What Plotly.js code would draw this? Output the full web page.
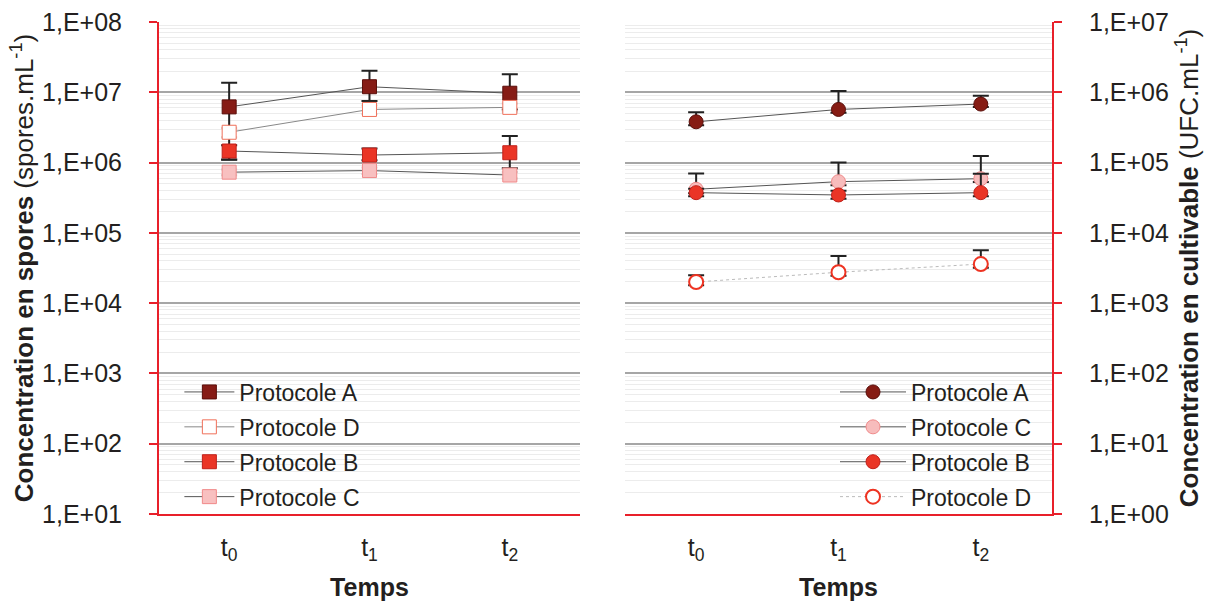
<!DOCTYPE html>
<html><head><meta charset="utf-8">
<script src="https://cdn.plot.ly/plotly-3.0.1.min.js"></script>
<style>html,body{margin:0;padding:0;background:#fff}</style>
</head><body><div id="chart" style="width:1206px;height:601px"></div>
<script>
// ---- data ----
const timeKeys = ['t0', 't1', 't2'];
const timeLabels = ['t<sub>0</sub>', 't<sub>1</sub>', 't<sub>2</sub>'];
const sporeTickVals = [1e1, 1e2, 1e3, 1e4, 1e5, 1e6, 1e7, 1e8];
const sporeTickText = ['1,E+01', '1,E+02', '1,E+03', '1,E+04', '1,E+05', '1,E+06', '1,E+07', '1,E+08'];
const cultTickVals = [1e0, 1e1, 1e2, 1e3, 1e4, 1e5, 1e6, 1e7];
const cultTickText = ['1,E+00', '1,E+01', '1,E+02', '1,E+03', '1,E+04', '1,E+05', '1,E+06', '1,E+07'];

// spores (left)
const sporesA = [6.2e6, 1.2e7, 9.7e6];
const sporesAPlus = [7.5e6, 8.3e6, 8.3e6];
const sporesAMinus = [5.1e6, 4.5e6, 4.0e6];
const sporesD = [2.7e6, 5.7e6, 6.1e6];
const sporesDErr = [0.4e6, 0.8e6, 0.8e6];
const sporesB = [1.46e6, 1.28e6, 1.38e6];
const sporesBPlus = [0.3e6, 0.3e6, 1.0e6];
const sporesBMinus = [0.35e6, 0.2e6, 0.55e6];
const sporesC = [7.3e5, 7.7e5, 6.65e5];
const sporesCErr = [0.7e5, 0.8e5, 0.7e5];

// cultivable (right)
const cultA = [3.8e5, 5.7e5, 6.8e5];
const cultAPlus = [1.4e5, 4.7e5, 2.1e5];
const cultAMinus = [0.4e5, 0.6e5, 0.6e5];
const cultC = [4.17e4, 5.35e4, 5.9e4];
const cultCPlus = [2.8e4, 4.65e4, 6.5e4];
const cultCMinus = [0.5e4, 0.6e4, 0.6e4];
const cultB = [3.73e4, 3.46e4, 3.73e4];
const cultBPlus = [0.5e4, 0.5e4, 3.2e4];
const cultBMinus = [0.4e4, 0.4e4, 0.4e4];
const cultD = [2.0e3, 2.75e3, 3.6e3];
const cultDPlus = [0.5e3, 1.95e3, 2.05e3];
const cultDMinus = [0.2e3, 0.3e3, 0.4e3];

// ---- traces ----
function mk(name, y, plus, minus, opt) {
  return {
    type: 'scatter', mode: 'lines+markers', name: name,
    x: timeKeys, y: y,
    xaxis: opt.xaxis, yaxis: opt.yaxis, legend: opt.legend, legendgroup: opt.group,
    line: {color: opt.lineColor || '#555', width: opt.lineWidth || 1, dash: opt.dash || 'solid'},
    marker: {symbol: opt.symbol, size: 14, color: opt.fill,
             line: {color: opt.edge, width: opt.edgeWidth || 1}},
    error_y: {type: 'data', symmetric: false, array: plus, arrayminus: minus,
              color: opt.errColor || '#222', thickness: 2, width: 8}
  };
}
const L = {xaxis: 'x', yaxis: 'y', legend: 'legend'};
const R = {xaxis: 'x2', yaxis: 'y2', legend: 'legend2'};
const data = [
  mk('Protocole A', sporesA, sporesAPlus, sporesAMinus, Object.assign({group: 'la', symbol: 'square', fill: '#861c16', edge: '#5a0e0a'}, L)),
  mk('Protocole D', sporesD, sporesDErr, sporesDErr, Object.assign({group: 'ld', symbol: 'square', fill: '#ffffff', edge: '#f0705a', lineColor: '#888', errColor: '#cfcfcf'}, L)),
  mk('Protocole B', sporesB, sporesBPlus, sporesBMinus, Object.assign({group: 'lb', symbol: 'square', fill: '#ea3526', edge: '#c0201a'}, L)),
  mk('Protocole C', sporesC, sporesCErr, sporesCErr, Object.assign({group: 'lc', symbol: 'square', fill: '#f8c0c0', edge: '#f08a8a', errColor: '#cfcfcf'}, L)),
  mk('Protocole A', cultA, cultAPlus, cultAMinus, Object.assign({group: 'ra', symbol: 'circle', fill: '#861c14', edge: '#5a0e0a'}, R)),
  mk('Protocole C', cultC, cultCPlus, cultCMinus, Object.assign({group: 'rc', symbol: 'circle', fill: '#f7bcbc', edge: '#f08a8a'}, R)),
  mk('Protocole B', cultB, cultBPlus, cultBMinus, Object.assign({group: 'rb', symbol: 'circle', fill: '#ea3526', edge: '#c0201a'}, R)),
  mk('Protocole D', cultD, cultDPlus, cultDMinus, Object.assign({group: 'rd', symbol: 'circle', fill: '#ffffff', edge: '#ee3322', edgeWidth: 2, lineColor: '#bbbbbb', dash: 'dot'}, R))
];

const FONT = 'Liberation Sans, Arial, sans-serif';
const INK = '#231f20';
const RED = '#e8202a';
function yax(vals, text, side, titleText, standoff) {
  return {
    type: 'log', range: [Math.log10(vals[0]), Math.log10(vals[vals.length - 1])],
    tickmode: 'array', tickvals: vals, ticktext: text, side: side,
    showline: true, linecolor: RED, linewidth: 2, mirror: false,
    ticks: 'outside', ticklen: 8, tickcolor: RED, tickwidth: 2, ticklabelstandoff: 22,
    showgrid: true, gridcolor: '#a6a6a6', gridwidth: 2,
    minor: {dtick: 'D1', showgrid: true, gridcolor: '#ececec', gridwidth: 1, ticks: ''},
    tickfont: {family: FONT, size: 25, color: INK},
    title: {text: titleText, font: {family: FONT, size: 26, color: INK}, standoff: standoff},
    zeroline: false, fixedrange: true
  };
}
function xax(domain, anchor) {
  return {
    domain: domain, anchor: anchor, type: 'category', range: [-0.5, 2.5],
    tickmode: 'array', tickvals: timeKeys, ticktext: timeLabels, ticklabelstandoff: 10,
    showline: true, linecolor: RED, linewidth: 2, ticks: '', showgrid: false, zeroline: false,
    tickfont: {family: FONT, size: 25, color: INK},
    title: {text: '<b>Temps</b>', font: {family: FONT, size: 25, color: INK}, standoff: 16},
    fixedrange: true
  };
}
const legendBase = {
  xref: 'paper', yref: 'paper', xanchor: 'left', yanchor: 'top',
  bgcolor: 'rgba(0,0,0,0)', borderwidth: 0,
  font: {family: FONT, size: 23, color: INK},
  traceorder: 'grouped', tracegroupgap: 2
};
const layout = {
  width: 1206, height: 601,
  margin: {l: 159, r: 154, t: 22, b: 87, pad: 0},
  paper_bgcolor: '#ffffff', plot_bgcolor: '#ffffff',
  font: {family: FONT, color: INK},
  showlegend: true,
  xaxis: xax([0, 0.4714], 'y'),
  yaxis: yax(sporeTickVals, sporeTickText, 'left', '<b>Concentration en spores</b> (spores.mL<sup>-1</sup>)', 1),
  xaxis2: xax([0.5218, 1], 'y2'),
  yaxis2: Object.assign(yax(cultTickVals, cultTickText, 'right', '<b>Concentration en cultivable</b> (UFC.mL<sup>-1</sup>)', 12), {anchor: 'x2'}),
  legend: Object.assign({}, legendBase, {x: 0.0228, y: 0.2917, itemwidth: 50}),
  legend2: Object.assign({}, legendBase, {x: 0.757, y: 0.2917, itemwidth: 66})
};
layout.yaxis.anchor = 'x';
Plotly.newPlot('chart', data, layout, {displayModeBar: false, staticPlot: true});
</script></body></html>
